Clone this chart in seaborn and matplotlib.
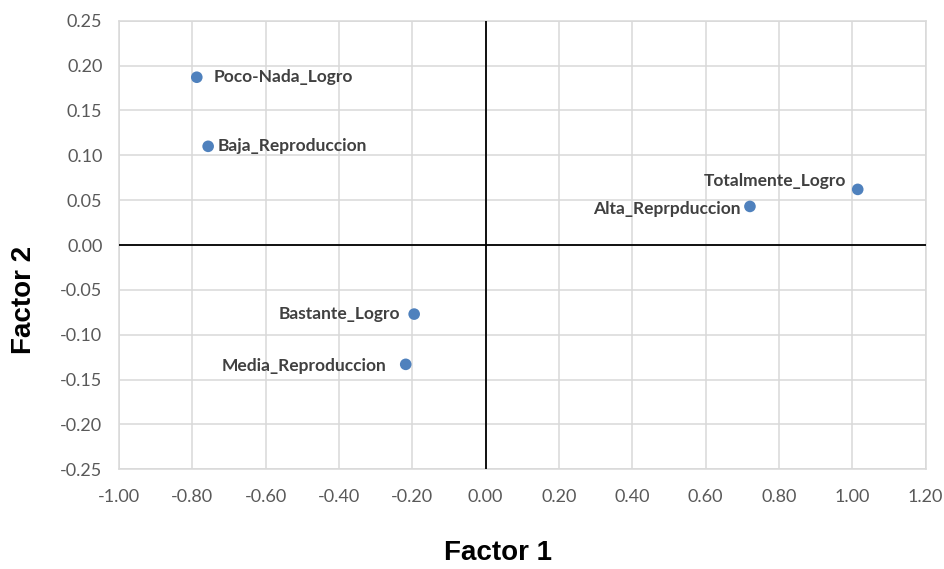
import pandas as pd
import matplotlib.pyplot as plt
import seaborn as sns

# Coordenadas de las categorías en el plano factorial
categorias = ['Poco-Nada_Logro', 'Baja_Reproduccion', 'Totalmente_Logro',
              'Alta_Reprpduccion', 'Bastante_Logro', 'Media_Reproduccion']
factor1 = [-0.788, -0.757, 1.015, 0.721, -0.195, -0.218]
factor2 = [0.187, 0.110, 0.062, 0.043, -0.077, -0.133]

# desplazamiento de etiquetas (puntos) y alineación
offsets = [(12, 0), (7, 0), (-8, 6), (-7, -1.5), (-10, 0), (-14, -1)]
aligns = ['left', 'left', 'right', 'right', 'right', 'right']

x_ticks = [-1.0, -0.8, -0.6, -0.4, -0.2, 0.0, 0.2, 0.4, 0.6, 0.8, 1.0, 1.2]
y_ticks = [-0.25, -0.20, -0.15, -0.10, -0.05, 0.0, 0.05, 0.10, 0.15, 0.20, 0.25]

df = pd.DataFrame({'categoria': categorias, 'factor1': factor1, 'factor2': factor2})

sns.set_style('white')
plt.rcParams['font.family'] = ['Lato', 'DejaVu Sans']

fig = plt.figure(figsize=(9.45, 5.69), dpi=100)
ax = fig.add_axes([0.1260, 0.1752, 0.8534, 0.7884])

sns.scatterplot(data=df, x='factor1', y='factor2', color='#4f81bd', s=70,
                edgecolor='none', ax=ax, zorder=5, legend=False)

for cat, x, y, off, ha in zip(categorias, factor1, factor2, offsets, aligns):
    ax.annotate(cat, (x, y), xytext=off, textcoords='offset points',
                ha=ha, va='center', fontsize=12.5, fontweight='bold', color='#404040')

ax.set_xlim(-1.0, 1.2)
ax.set_ylim(-0.25, 0.25)
ax.set_xticks(x_ticks)
ax.set_yticks(y_ticks)
ax.set_xticklabels([f'{v:.2f}' for v in x_ticks])
ax.set_yticklabels([f'{v:.2f}' for v in y_ticks])
ax.tick_params(axis='both', length=0, labelsize=13, labelcolor='#595959')
ax.tick_params(axis='x', pad=14)
ax.tick_params(axis='y', pad=12)

ax.grid(True, color='#d9d9d9', linewidth=1.1)
ax.set_axisbelow(True)
for s in ax.spines.values():
    s.set_color('#d9d9d9')
    s.set_linewidth(1.1)

ax.axhline(0, color='black', linewidth=1.3, zorder=3)
ax.axvline(0, color='black', linewidth=1.3, zorder=3)

ax.set_xlabel('')
ax.set_ylabel('')
fig.text(0.527, 0.028, 'Factor 1', ha='center', va='center', fontsize=20,
         fontweight='bold', family='Liberation Sans', color='black')
fig.text(0.025, 0.473, 'Factor 2', ha='center', va='center', rotation=90, fontsize=20,
         fontweight='bold', family='Liberation Sans', color='black')

fig.savefig('out.png', dpi=100)
